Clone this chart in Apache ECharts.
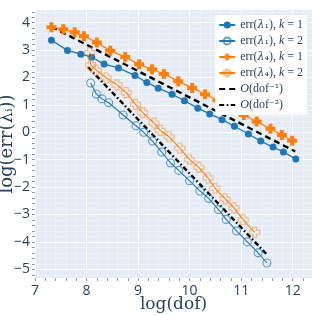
<!DOCTYPE html>
<html>
<head>
<meta charset="utf-8">
<script src="https://cdn.jsdelivr.net/npm/echarts@6/dist/echarts.min.js"></script>
<style>
html,body{margin:0;padding:0;background:#fff;}
#chart{width:315px;height:315px;}
</style>
</head>
<body>
<div id="chart"></div>
<script>
// ---- data ----
const e1k1X = [7.32,7.63,7.89,8.10,8.34,8.62,8.94,9.17,9.39,9.66,9.90,10.16,10.39,10.63,10.87,11.14,11.38,11.62,11.82,12.06];
const e1k1Y = [3.36,2.99,2.85,2.74,2.49,2.35,2.07,1.82,1.61,1.39,1.15,0.88,0.67,0.46,0.22,-0.06,-0.32,-0.54,-0.72,-0.97];

const e1k2X = [8.08,8.19,8.30,8.43,8.71,8.96,9.11,9.28,9.46,9.63,9.79,10.00,10.20,10.37,10.56,10.71,10.91,11.12,11.33,11.50];
const e1k2Y = [1.80,1.40,1.22,1.08,0.63,0.24,0.00,-0.32,-0.72,-1.12,-1.39,-1.77,-2.14,-2.41,-2.82,-3.18,-3.60,-4.00,-4.40,-4.77];

const e4k1X = [7.32,7.55,7.77,7.95,8.20,8.46,8.75,9.02,9.27,9.50,9.78,10.05,10.30,10.54,10.82,11.05,11.30,11.57,11.79,11.99];
const e4k1Y = [3.83,3.76,3.65,3.51,3.28,2.98,2.75,2.48,2.30,2.13,1.86,1.62,1.39,1.17,0.88,0.63,0.39,0.13,-0.10,-0.31];

const e4k2X = [8.06,8.08,8.19,8.38,8.59,8.77,8.95,9.09,9.31,9.43,9.60,9.81,10.00,10.18,10.36,10.49,10.69,10.86,11.04,11.26];
const e4k2Y = [2.91,2.46,2.27,1.99,1.73,1.45,1.02,0.72,0.34,0.07,-0.16,-0.58,-1.00,-1.28,-1.67,-2.04,-2.43,-2.76,-3.19,-3.65];

const ref1X = [7.32, 12.05];
const ref1Y = [3.85, -0.70];
const ref2X = [8.03, 11.50];
const ref2Y = [2.38, -4.46];

const xTickLabels = [7,8,9,10,11,12];
const yTickLabels = [-5,-4,-3,-2,-1,0,1,2,3,4];

const seriesNames = ['err(λ1), k=1','err(λ1), k=2','err(λ4), k=1','err(λ4), k=2','O(dof^-1)','O(dof^-2)'];

// ---- helpers ----
function pairs(xs, ys){ return xs.map((x,i)=>[x, ys[i]]); }
function steps(a, b, s){ const out=[]; for(let v=a; v<=b+1e-9; v+=s){ out.push(Math.round(v*10)/10); } return out; }

const X_MIN = 7, X_MAX = 12.375, Y_MIN = -5.318, Y_MAX = 4.464;
const xMinor = steps(7, 12.2, 0.2);
const yMinor = steps(-5.2, 4.4, 0.2);

const BLUE = '#1f77b4', ORANGE = '#ff7f0e', TXT = '#2a3f5f';
const PLUS = 'path://M3,0H7V3H10V7H7V10H3V7H0V3H3Z';

const chart = echarts.init(document.getElementById('chart'), null, {renderer:'canvas'});

const legendText = {
  'err(λ1), k=1': '{t|err(}{g|λ}{s|₁}{t|), }{i|k}{t| = 1}',
  'err(λ1), k=2': '{t|err(}{g|λ}{s|₁}{t|), }{i|k}{t| = 2}',
  'err(λ4), k=1': '{t|err(}{g|λ}{s|₄}{t|), }{i|k}{t| = 1}',
  'err(λ4), k=2': '{t|err(}{g|λ}{s|₄}{t|), }{i|k}{t| = 2}',
  'O(dof^-1)': '{i|O}{t|(dof}{s|⁻¹}{t|)}',
  'O(dof^-2)': '{i|O}{t|(dof}{s|⁻²}{t|)}'
};

const option = {
  animation:false,
  backgroundColor:'#ffffff',
  grid:{left:35, right:3, top:10, bottom:37, show:true, backgroundColor:'#e5ecf6', borderWidth:0,
        outerBoundsMode:'none', containLabel:false},
  xAxis:[
    {
      type:'value', min:X_MIN, max:X_MAX, position:'bottom',
      axisLine:{show:false, onZero:false},
      axisTick:{show:false, customValues:xTickLabels},
      axisLabel:{customValues:xTickLabels, color:TXT, fontFamily:'Open Sans', fontSize:14, margin:6},
      splitLine:{show:true, lineStyle:{color:'#ffffff', width:1}},
      name:'log(dof)', nameLocation:'middle', nameGap:18, nameMoveOverlap:false,
      nameTextStyle:{fontFamily:'DejaVu Serif', fontSize:17, color:TXT}
    },
    {
      type:'value', min:X_MIN, max:X_MAX, position:'bottom',
      axisLine:{show:false, onZero:false},
      axisTick:{show:true, inside:false, length:3, customValues:xMinor, lineStyle:{color:'#8c9bb2', width:1}},
      axisLabel:{show:false},
      splitLine:{show:true, lineStyle:{color:'rgba(255,255,255,0.4)', width:1}}
    }
  ],
  yAxis:[
    {
      type:'value', min:Y_MIN, max:Y_MAX, position:'left',
      axisLine:{show:false, onZero:false},
      axisTick:{show:false, customValues:yTickLabels},
      axisLabel:{customValues:yTickLabels, color:TXT, fontFamily:'Open Sans', fontSize:14, margin:5,
        formatter:v=> (v<0 ? '\u2212'+Math.abs(v) : ''+v)},
      splitLine:{show:true, lineStyle:{color:'#ffffff', width:1}},
      name:'log(err(λᵢ))', nameLocation:'middle', nameGap:18.5, nameRotate:90, nameMoveOverlap:false,
      nameTextStyle:{fontFamily:'DejaVu Serif', fontSize:18, color:TXT}
    },
    {
      type:'value', min:Y_MIN, max:Y_MAX, position:'left',
      axisLine:{show:false, onZero:false},
      axisTick:{show:true, inside:false, length:3, customValues:yMinor, lineStyle:{color:'#8c9bb2', width:1}},
      axisLabel:{show:false},
      splitLine:{show:true, lineStyle:{color:'rgba(255,255,255,0.4)', width:1}}
    }
  ],
  legend:{
    right:8, top:15, orient:'vertical',
    backgroundColor:'#ffffff', borderWidth:0, padding:[4,4,4,3],
    itemWidth:16, itemHeight:9, itemGap:4,
    data:[
      {name:seriesNames[0]},
      {name:seriesNames[1]},
      {name:seriesNames[2]},
      {name:seriesNames[3]},
      {name:seriesNames[4], itemStyle:{opacity:0}},
      {name:seriesNames[5], itemStyle:{opacity:0}}
    ],
    formatter:n=>legendText[n],
    textStyle:{
      color:TXT, fontSize:12,
      rich:{
        t:{fontFamily:'Liberation Serif', fontSize:12, color:TXT},
        i:{fontFamily:'Liberation Serif', fontStyle:'italic', fontSize:12, color:TXT},
        g:{fontFamily:'DejaVu Serif', fontStyle:'italic', fontSize:11, color:TXT},
        s:{fontFamily:'DejaVu Serif', fontSize:11, color:TXT}
      }
    }
  },
  series:[
    {
      name:seriesNames[0], type:'line', xAxisIndex:0, yAxisIndex:0,
      data:pairs(e1k1X, e1k1Y),
      symbol:'circle', symbolSize:7,
      itemStyle:{color:BLUE},
      lineStyle:{color:BLUE, width:1.3}
    },
    {
      name:seriesNames[1], type:'line', xAxisIndex:0, yAxisIndex:0,
      data:pairs(e1k2X, e1k2Y),
      symbol:'circle', symbolSize:8,
      itemStyle:{color:'rgba(0,0,0,0)', borderColor:'rgba(31,119,180,0.7)', borderWidth:1.1},
      lineStyle:{color:BLUE, width:1.1}
    },
    {
      name:seriesNames[2], type:'line', xAxisIndex:0, yAxisIndex:0,
      data:pairs(e4k1X, e4k1Y),
      symbol:PLUS, symbolSize:10,
      itemStyle:{color:ORANGE},
      lineStyle:{color:ORANGE, width:1.3}
    },
    {
      name:seriesNames[3], type:'line', xAxisIndex:0, yAxisIndex:0,
      data:pairs(e4k2X, e4k2Y),
      symbol:PLUS, symbolSize:10,
      itemStyle:{color:'rgba(0,0,0,0)', borderColor:'rgba(255,127,14,0.5)', borderWidth:1.1},
      lineStyle:{color:ORANGE, width:1.1}
    },
    {
      name:seriesNames[4], type:'line', xAxisIndex:0, yAxisIndex:0,
      data:pairs(ref1X, ref1Y),
      symbol:'none', itemStyle:{color:'#000'},
      lineStyle:{color:'#000', width:2.4, type:[6,4]}
    },
    {
      name:seriesNames[5], type:'line', xAxisIndex:0, yAxisIndex:0,
      data:pairs(ref2X, ref2Y),
      symbol:'none', itemStyle:{color:'#000'},
      lineStyle:{color:'#000', width:2.4, type:[5,2.5,1.5,2.5]}
    }
  ]
};
chart.setOption(option);
</script>
</body>
</html>
